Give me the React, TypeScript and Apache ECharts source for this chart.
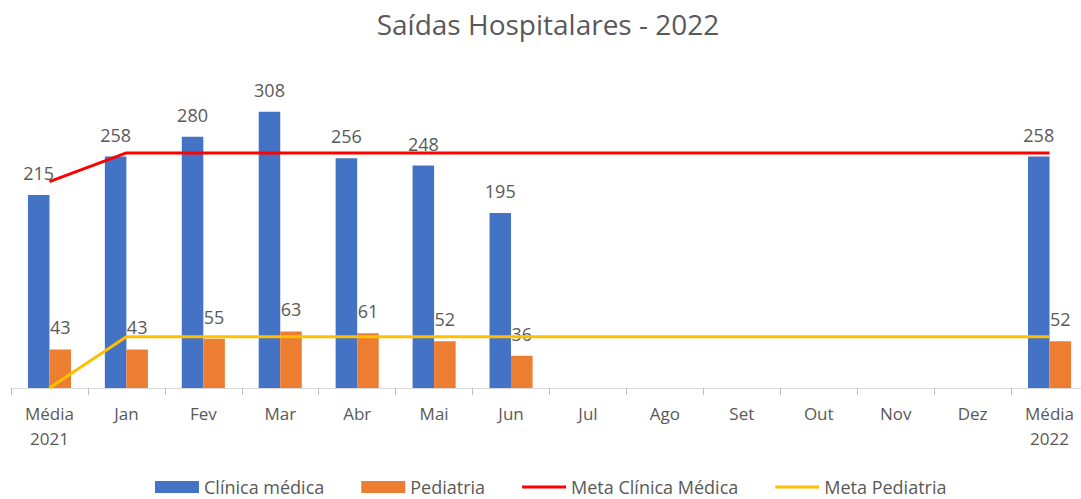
import React, { useEffect, useRef } from "react";
import * as echarts from "echarts";

const categories = ["Média\n2021", "Jan", "Fev", "Mar", "Abr", "Mai", "Jun", "Jul", "Ago", "Set", "Out", "Nov", "Dez", "Média\n2022"];
const clinica: (number | null)[] = [215, 258, 280, 308, 256, 248, 195, null, null, null, null, null, null, 258];
const pediatria: (number | null)[] = [43, 43, 55, 63, 61, 52, 36, null, null, null, null, null, null, 52];
const metaClinica = [230, 262, 262, 262, 262, 262, 262, 262, 262, 262, 262, 262, 262, 262];
const metaPediatria = [0, 57, 57, 57, 57, 57, 57, 57, 57, 57, 57, 57, 57, 57];

const FONT = "'Open Sans', 'Noto Sans', sans-serif";
const GRAY = "#595959";
const LINE_ICON = "path://M0,0L44,0L44,3L0,3Z";

export default function App() {
  const ref = useRef<HTMLDivElement>(null);
  useEffect(() => {
    if (!ref.current) return;
    const chart = echarts.init(ref.current, null, { renderer: "svg" });
    const barLabel = {
      show: true,
      position: "top" as const,
      distance: 13,
      color: GRAY,
      fontSize: 18,
      fontFamily: FONT,
    };
    chart.setOption({
      animation: false,
      backgroundColor: "#ffffff",
      textStyle: { fontFamily: FONT },
      title: {
        text: "Saídas Hospitalares - 2022",
        left: 543,
        textAlign: "center",
        top: 5,
        textStyle: { color: GRAY, fontSize: 28, fontWeight: "normal", fontFamily: FONT },
      },
      legend: {
        left: 155,
        top: 478,
        padding: 0,
        itemWidth: 44,
        itemHeight: 12,
        itemGap: 37,
        symbolKeepAspect: true,
        textStyle: { color: GRAY, fontSize: 18, lineHeight: 18, fontFamily: FONT },
        data: [
          { name: "Clínica médica", icon: "rect" },
          { name: "Pediatria", icon: "rect" },
          { name: "Meta Clínica Médica", icon: LINE_ICON },
          { name: "Meta Pediatria", icon: LINE_ICON },
        ],
      },
      grid: { left: 11, right: 0, top: 74, height: 314, containLabel: false },
      xAxis: {
        type: "category",
        data: categories,
        boundaryGap: true,
        axisLine: { show: true, lineStyle: { color: "#d9d9d9", width: 1 } },
        axisTick: { show: true, length: 7, alignWithLabel: false, lineStyle: { color: "#bfbfbf" } },
        axisLabel: { color: GRAY, fontSize: 17, fontFamily: FONT, margin: 13, lineHeight: 25, interval: 0 },
      },
      yAxis: {
        type: "value",
        min: 0,
        max: 350,
        interval: 50,
        show: false,
        splitLine: { show: false },
      },
      series: [
        {
          name: "Clínica médica",
          type: "bar",
          data: clinica,
          barGap: "0%",
          barCategoryGap: "44%",
          itemStyle: { color: "#4472C4" },
          label: barLabel,
        },
        {
          name: "Pediatria",
          type: "bar",
          data: pediatria,
          itemStyle: { color: "#ED7D31" },
          label: barLabel,
        },
        {
          name: "Meta Clínica Médica",
          type: "line",
          data: metaClinica,
          symbol: "none",
          lineStyle: { color: "#FF0000", width: 3 },
          itemStyle: { color: "#FF0000" },
          z: 5,
        },
        {
          name: "Meta Pediatria",
          type: "line",
          data: metaPediatria,
          symbol: "none",
          lineStyle: { color: "#FFC000", width: 3 },
          itemStyle: { color: "#FFC000" },
          z: 5,
        },
      ],
    });
    return () => chart.dispose();
  }, []);
  return (
    <div
      style={{ position: "fixed", left: 0, top: 0, width: 1081, height: 499, overflow: "hidden", background: "#fff" }}
    >
      <div ref={ref} style={{ width: 1088, height: 499 }} />
    </div>
  );
}
